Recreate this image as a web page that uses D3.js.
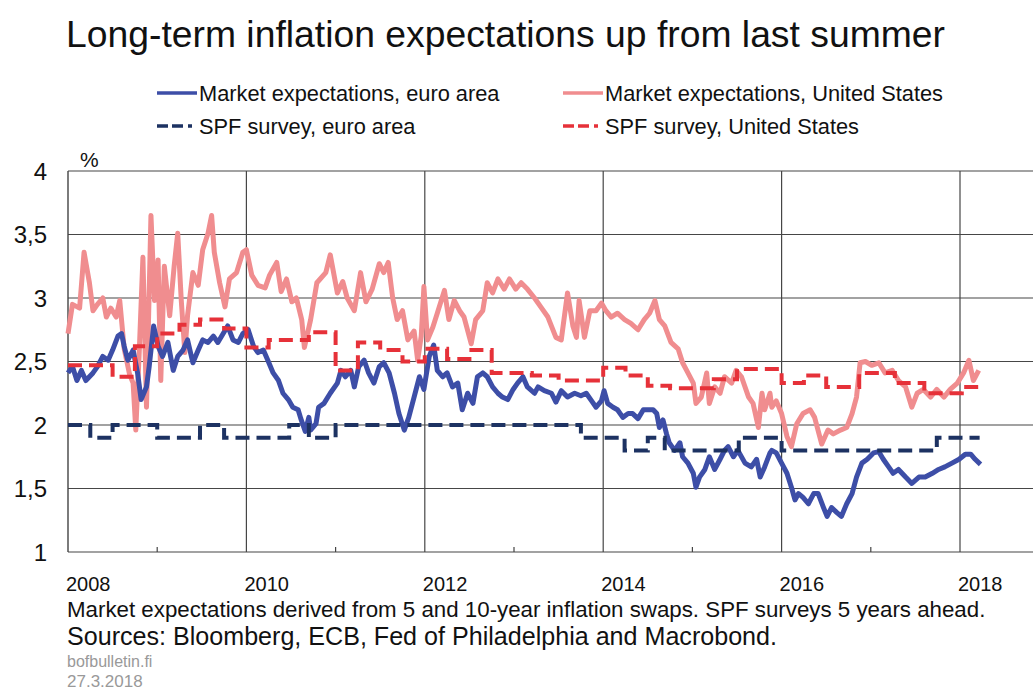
<!DOCTYPE html>
<meta charset="utf-8">
<style>
  body { margin: 0; background: #fff; }
  text { font-family: "Liberation Sans", Arial, sans-serif; fill: #111; }
</style>
<svg id="chart" width="1033" height="690"></svg>
<script src="https://cdn.jsdelivr.net/npm/d3@7"></script>
<script>

// market expectations (decimal year, %)
var euMarket = [
  [2008.00,2.41],[2008.05,2.46],[2008.10,2.35],[2008.15,2.43],[2008.20,2.35],[2008.28,2.41],[2008.33,2.46],
  [2008.39,2.54],[2008.45,2.51],[2008.50,2.59],[2008.56,2.70],[2008.60,2.72],[2008.63,2.62],[2008.67,2.51],
  [2008.73,2.59],[2008.78,2.41],[2008.82,2.20],[2008.88,2.30],[2008.91,2.46],[2008.96,2.78],[2009.01,2.62],
  [2009.06,2.54],[2009.12,2.65],[2009.18,2.43],[2009.23,2.54],[2009.29,2.59],[2009.34,2.67],[2009.40,2.49],
  [2009.46,2.59],[2009.51,2.67],[2009.57,2.65],[2009.63,2.70],[2009.68,2.65],[2009.74,2.72],[2009.79,2.78],
  [2009.85,2.67],[2009.91,2.65],[2009.96,2.72],[2010.02,2.75],[2010.08,2.62],[2010.13,2.57],[2010.19,2.59],
  [2010.24,2.51],[2010.30,2.41],[2010.36,2.35],[2010.41,2.25],[2010.47,2.20],[2010.52,2.14],[2010.58,2.12],
  [2010.61,2.05],[2010.66,1.95],[2010.70,2.06],[2010.72,1.96],[2010.78,2.01],[2010.81,2.14],[2010.87,2.17],
  [2010.94,2.25],[2011.02,2.33],[2011.06,2.43],[2011.11,2.38],[2011.17,2.43],[2011.21,2.30],[2011.26,2.46],
  [2011.32,2.51],[2011.37,2.41],[2011.43,2.33],[2011.49,2.46],[2011.54,2.49],[2011.60,2.41],[2011.66,2.25],
  [2011.71,2.09],[2011.77,1.96],[2011.82,2.06],[2011.88,2.22],[2011.94,2.38],[2011.99,2.28],[2012.05,2.54],
  [2012.10,2.63],[2012.14,2.43],[2012.20,2.38],[2012.25,2.41],[2012.31,2.30],[2012.37,2.33],[2012.42,2.12],
  [2012.48,2.25],[2012.54,2.17],[2012.59,2.38],[2012.65,2.41],[2012.70,2.38],[2012.76,2.30],[2012.82,2.25],
  [2012.87,2.22],[2012.93,2.20],[2012.99,2.28],[2013.04,2.33],[2013.10,2.38],[2013.15,2.30],[2013.23,2.25],
  [2013.27,2.30],[2013.34,2.27],[2013.42,2.25],[2013.47,2.18],[2013.53,2.27],[2013.60,2.22],[2013.68,2.25],
  [2013.75,2.23],[2013.81,2.25],[2013.87,2.19],[2013.92,2.14],[2013.98,2.19],[2014.01,2.27],[2014.05,2.17],
  [2014.11,2.14],[2014.16,2.12],[2014.22,2.06],[2014.28,2.09],[2014.33,2.09],[2014.39,2.05],[2014.45,2.12],
  [2014.50,2.12],[2014.56,2.12],[2014.60,2.09],[2014.63,1.98],[2014.67,2.04],[2014.71,1.93],[2014.74,1.86],
  [2014.80,1.80],[2014.86,1.86],[2014.89,1.75],[2014.95,1.70],[2015.01,1.62],[2015.04,1.51],[2015.08,1.59],
  [2015.14,1.65],[2015.19,1.75],[2015.25,1.65],[2015.31,1.73],[2015.36,1.80],[2015.40,1.83],[2015.46,1.75],
  [2015.51,1.80],[2015.59,1.70],[2015.66,1.67],[2015.72,1.73],[2015.76,1.59],[2015.81,1.67],[2015.87,1.78],
  [2015.89,1.80],[2015.94,1.78],[2016.00,1.70],[2016.06,1.62],[2016.11,1.51],[2016.15,1.41],[2016.19,1.46],
  [2016.24,1.43],[2016.30,1.38],[2016.36,1.46],[2016.41,1.46],[2016.47,1.35],[2016.51,1.28],[2016.56,1.35],
  [2016.62,1.31],[2016.67,1.28],[2016.73,1.38],[2016.79,1.46],[2016.84,1.59],[2016.90,1.70],[2016.96,1.73],
  [2017.03,1.78],[2017.09,1.79],[2017.14,1.73],[2017.20,1.67],[2017.25,1.62],[2017.31,1.65],[2017.39,1.59],
  [2017.46,1.54],[2017.54,1.59],[2017.61,1.59],[2017.69,1.62],[2017.76,1.65],[2017.83,1.67],[2017.91,1.70],
  [2017.99,1.73],[2018.06,1.77],[2018.12,1.77],[2018.17,1.73],[2018.23,1.69]
];

var usMarket = [
  [2008.00,2.72],[2008.05,2.95],[2008.13,2.92],[2008.18,3.36],[2008.24,3.12],[2008.28,2.90],[2008.33,2.95],
  [2008.39,3.00],[2008.43,2.85],[2008.48,2.92],[2008.54,2.85],[2008.58,2.98],[2008.63,2.60],[2008.69,2.40],
  [2008.73,2.33],[2008.76,1.96],[2008.80,2.60],[2008.84,3.32],[2008.88,2.14],[2008.93,3.65],[2008.97,2.98],
  [2009.01,3.30],[2009.04,2.35],[2009.08,3.25],[2009.14,2.86],[2009.19,3.25],[2009.23,3.51],[2009.27,2.98],
  [2009.31,2.57],[2009.34,2.86],[2009.40,3.20],[2009.46,3.10],[2009.51,3.38],[2009.57,3.51],[2009.61,3.65],
  [2009.64,3.36],[2009.70,3.12],[2009.76,2.93],[2009.81,3.15],[2009.89,3.20],[2009.96,3.36],[2010.00,3.38],
  [2010.06,3.18],[2010.13,3.10],[2010.21,3.08],[2010.26,3.18],[2010.34,3.28],[2010.39,3.05],[2010.45,3.15],
  [2010.51,2.97],[2010.56,3.00],[2010.62,2.83],[2010.65,2.61],[2010.72,2.83],[2010.79,3.12],[2010.89,3.20],
  [2010.94,3.34],[2011.02,3.04],[2011.08,3.13],[2011.13,3.00],[2011.21,2.90],[2011.28,3.20],[2011.34,2.97],
  [2011.41,3.07],[2011.49,3.27],[2011.54,3.20],[2011.59,3.28],[2011.64,3.00],[2011.69,2.83],[2011.75,2.90],
  [2011.81,2.67],[2011.88,2.74],[2011.92,2.51],[2011.96,2.70],[2011.99,3.09],[2012.03,2.67],[2012.09,2.77],
  [2012.14,2.88],[2012.22,3.06],[2012.27,2.83],[2012.33,2.98],[2012.39,2.90],[2012.44,2.85],[2012.52,2.64],
  [2012.57,2.83],[2012.65,2.90],[2012.70,3.12],[2012.76,3.04],[2012.82,3.15],[2012.89,3.07],[2012.95,3.15],
  [2013.02,3.07],[2013.08,3.12],[2013.15,3.07],[2013.23,3.00],[2013.30,2.93],[2013.38,2.85],[2013.47,2.69],
  [2013.53,2.67],[2013.60,3.04],[2013.66,2.78],[2013.70,2.69],[2013.73,2.98],[2013.79,2.69],[2013.85,2.90],
  [2013.92,2.90],[2013.98,2.96],[2014.03,2.90],[2014.09,2.85],[2014.16,2.88],[2014.24,2.83],[2014.31,2.80],
  [2014.39,2.75],[2014.46,2.83],[2014.52,2.88],[2014.58,2.98],[2014.63,2.83],[2014.69,2.78],[2014.76,2.65],
  [2014.84,2.60],[2014.89,2.49],[2014.95,2.41],[2015.01,2.33],[2015.04,2.17],[2015.10,2.22],[2015.16,2.41],
  [2015.19,2.17],[2015.25,2.30],[2015.31,2.25],[2015.36,2.38],[2015.44,2.33],[2015.49,2.43],[2015.55,2.38],
  [2015.63,2.22],[2015.68,2.17],[2015.74,1.98],[2015.78,2.25],[2015.81,2.12],[2015.87,2.25],[2015.89,2.14],
  [2015.94,2.19],[2016.00,2.09],[2016.06,1.91],[2016.11,1.83],[2016.17,2.01],[2016.24,2.09],[2016.32,2.12],
  [2016.37,2.06],[2016.45,1.85],[2016.52,1.96],[2016.58,1.93],[2016.66,1.96],[2016.73,1.98],[2016.79,2.09],
  [2016.84,2.22],[2016.88,2.49],[2016.94,2.50],[2017.01,2.47],[2017.09,2.49],[2017.16,2.41],[2017.24,2.43],
  [2017.31,2.35],[2017.39,2.30],[2017.46,2.14],[2017.52,2.25],[2017.59,2.28],[2017.67,2.22],[2017.74,2.28],
  [2017.82,2.22],[2017.89,2.28],[2017.97,2.33],[2018.04,2.41],[2018.10,2.51],[2018.15,2.35],[2018.21,2.43]
];

// SPF surveys, step values (start of period, %)
var euSpf = [
  [2008.00,2.0],[2008.25,1.9],[2008.50,2.0],[2009.00,1.9],[2009.48,2.0],[2009.75,1.9],[2010.48,2.0],
  [2010.70,1.9],[2011.00,2.0],[2013.75,1.9],[2014.24,1.8],[2014.50,1.9],[2014.69,1.8],[2015.52,1.9],
  [2016.00,1.8],[2017.74,1.9],[2018.22,1.9]
];

var usSpf = [
  [2008.00,2.47],[2008.50,2.38],[2008.75,2.62],[2009.00,2.72],[2009.25,2.79],[2009.48,2.83],[2009.75,2.76],
  [2010.00,2.61],[2010.25,2.67],[2010.70,2.73],[2011.00,2.43],[2011.25,2.65],[2011.50,2.59],[2011.75,2.50],
  [2012.00,2.60],[2012.25,2.52],[2012.50,2.59],[2012.75,2.41],[2013.20,2.39],[2013.50,2.35],[2014.00,2.45],
  [2014.25,2.39],[2014.50,2.31],[2014.75,2.29],[2015.24,2.36],[2015.50,2.44],[2016.00,2.33],[2016.25,2.39],
  [2016.50,2.30],[2016.87,2.41],[2017.27,2.33],[2017.60,2.25],[2018.02,2.30],[2018.22,2.30]
];

var yTicks = [1, 1.5, 2, 2.5, 3, 3.5, 4];
var xLabelYears = [2008, 2010, 2012, 2014, 2016, 2018];
var xMinorYears = [2009, 2011, 2013, 2015, 2017];

var legendItems = [
  { label: "Market expectations, euro area", color: "#3d4ea7", dash: null },
  { label: "Market expectations, United States", color: "#f08d8f", dash: null },
  { label: "SPF survey, euro area", color: "#1d3262", dash: "11,4,11,5,4,40" },
  { label: "SPF survey, United States", color: "#e63139", dash: "11,4,11,5,4,40" }
];

var svg = d3.select("#chart");
var plotLeft = 68, plotTop = 171, plotBottom = 552, plotRight = 1033;

var x = d3.scaleLinear().domain([2008, 2008 + (plotRight - plotLeft) / 89.2]).range([plotLeft, plotRight]);
var y = d3.scaleLinear().domain([1, 4]).range([plotBottom, plotTop]);

svg.append("rect").attr("width", 1033).attr("height", 690).attr("fill", "#fff");

// title
svg.append("text").attr("x", 66).attr("y", 47)
    .style("font-size", "37.3px").text("Long-term inflation expectations up from last summer");

// legend
legendItems.forEach(function(d, i) {
  var lx = i % 2 === 0 ? 157 : 563;
  var ly = i < 2 ? 93 : 126;
  var ln = svg.append("line")
      .attr("x1", lx).attr("x2", lx + 40).attr("y1", ly).attr("y2", ly)
      .attr("stroke", d.color).attr("stroke-width", 3.5);
  if (d.dash) ln.attr("stroke-dasharray", d.dash);
  svg.append("text").attr("x", lx + 42).attr("y", ly + 8)
      .style("font-size", "21.8px").text(d.label);
});

// grid
var grid = svg.append("g");
grid.selectAll(".hg").data(yTicks).join("line")
    .attr("x1", plotLeft).attr("x2", plotRight)
    .attr("y1", function(d) { return y(d); }).attr("y2", function(d) { return y(d); })
    .attr("stroke", d3.rgb(70, 70, 70)).attr("stroke-width", 1.2);
grid.selectAll(".vg").data(xLabelYears.slice(1)).join("line")
    .attr("x1", function(d) { return x(d); }).attr("x2", function(d) { return x(d); })
    .attr("y1", plotTop).attr("y2", plotBottom)
    .attr("stroke", d3.rgb(70, 70, 70)).attr("stroke-width", 1.2);
grid.append("line").attr("x1", plotLeft).attr("x2", plotLeft).attr("y1", plotTop).attr("y2", plotBottom)
    .attr("stroke", "#444").attr("stroke-width", 1.4);
grid.selectAll(".mt").data(xMinorYears).join("line")
    .attr("x1", function(d) { return x(d); }).attr("x2", function(d) { return x(d); })
    .attr("y1", plotBottom - 5).attr("y2", plotBottom)
    .attr("stroke", "#444").attr("stroke-width", 1.2);

// y labels
svg.selectAll(".yl").data(yTicks).join("text")
    .attr("x", 47).attr("y", function(d) { return y(d) + 8.5; })
    .attr("text-anchor", "end").style("font-size", "24px")
    .text(function(d) { return String(d).replace(".", ","); });
svg.append("text").attr("x", 80).attr("y", 167).style("font-size", "21px").text("%");

// x labels
svg.selectAll(".xl").data(xLabelYears).join("text")
    .attr("x", function(d) { return x(d) - 2; }).attr("y", 591)
    .style("font-size", "20px").text(function(d) { return d; });

var line = d3.line().x(function(d) { return x(d[0]); }).y(function(d) { return y(d[1]); });
var step = d3.line().curve(d3.curveStepAfter)
    .x(function(d) { return x(d[0]); }).y(function(d) { return y(d[1]); });

var plot = svg.append("g");
plot.append("path").datum(usMarket).attr("d", line).attr("fill", "none")
    .attr("stroke", legendItems[1].color).attr("stroke-width", 5).attr("stroke-linejoin", "round");
plot.append("path").datum(euMarket).attr("d", line).attr("fill", "none")
    .attr("stroke", legendItems[0].color).attr("stroke-width", 5).attr("stroke-linejoin", "round");
plot.append("path").datum(euSpf).attr("d", step).attr("fill", "none")
    .attr("stroke", legendItems[2].color).attr("stroke-width", 4).attr("stroke-dasharray", "14,7");
plot.append("path").datum(usSpf).attr("d", step).attr("fill", "none")
    .attr("stroke", legendItems[3].color).attr("stroke-width", 4).attr("stroke-dasharray", "14,7");

// notes
svg.append("text").attr("x", 67).attr("y", 617).style("font-size", "22.3px")
    .text("Market expectations derived from 5 and 10-year inflation swaps. SPF surveys 5 years ahead.");
svg.append("text").attr("x", 67).attr("y", 645).style("font-size", "25.1px")
    .text("Sources: Bloomberg, ECB, Fed of Philadelphia and Macrobond.");
svg.append("text").attr("x", 67).attr("y", 667).style("font-size", "16px").style("fill", "#999")
    .text("bofbulletin.fi");
svg.append("text").attr("x", 67).attr("y", 687).style("font-size", "17px").style("fill", "#999")
    .text("27.3.2018");

</script>
